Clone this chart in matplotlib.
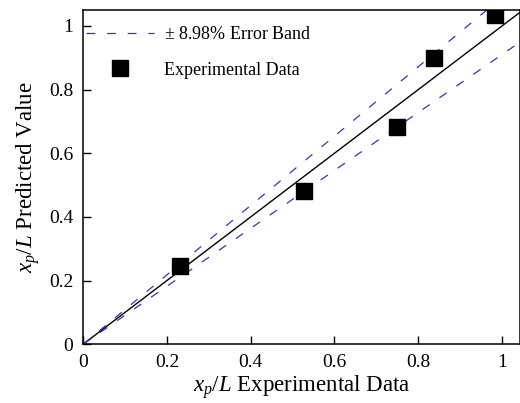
import numpy as np
import matplotlib
matplotlib.use('Agg')
import matplotlib.pyplot as plt

# Experimental vs predicted x_p/L
x_exp = [0.231, 0.528, 0.750, 0.838, 0.983]
y_pred = [0.246, 0.482, 0.683, 0.900, 1.035]
band = 0.0898  # +/- 8.98 % error band

plt.rcParams['font.family'] = ['Liberation Serif', 'DejaVu Serif']
plt.rcParams['mathtext.fontset'] = 'custom'
plt.rcParams['mathtext.rm'] = 'Liberation Serif'
plt.rcParams['mathtext.it'] = 'Liberation Serif:italic'

fig = plt.figure(figsize=(5.2, 4.03), dpi=100)
ax = fig.add_axes([0.16, 0.146, 0.84, 0.829])

xx = np.array([0, 1.1])
ax.plot(xx, xx, color='black', lw=1.0)
ax.plot(xx, xx * (1 + band), color='#3636b0', lw=0.9, dashes=(7, 9.5),
        label=r'$\pm$ 8.98% Error Band')
ax.plot(xx, xx * (1 - band), color='#3636b0', lw=0.9, dashes=(7, 9.5))
ax.plot(x_exp, y_pred, 's', color='black', ms=11, label='Experimental Data')

ax.set_xlim(0, 1.043)
ax.set_ylim(0, 1.05)
ax.set_xticks([0, 0.2, 0.4, 0.6, 0.8, 1])
ax.set_xticklabels(['0', '0.2', '0.4', '0.6', '0.8', '1'])
ax.set_yticks([0, 0.2, 0.4, 0.6, 0.8, 1])
ax.set_yticklabels(['0', '0.2', '0.4', '0.6', '0.8', '1'])
ax.tick_params(direction='in', length=6, width=1, labelsize=14, pad=7)
for s in ax.spines.values():
    s.set_linewidth(1.1)

ax.set_xlabel(r'$x_p$/$L$ Experimental Data', fontsize=16.5, labelpad=2)
ax.set_ylabel(r'$x_p$/$L$ Predicted Value', fontsize=16.5, labelpad=5)

ax.legend(loc='upper left', bbox_to_anchor=(0.007, 0.951), frameon=False,
          fontsize=13, handlelength=3.75, handletextpad=0.55, labelspacing=1.0,
          borderaxespad=0, borderpad=0, numpoints=1)

fig.savefig('out.png', dpi=100)
